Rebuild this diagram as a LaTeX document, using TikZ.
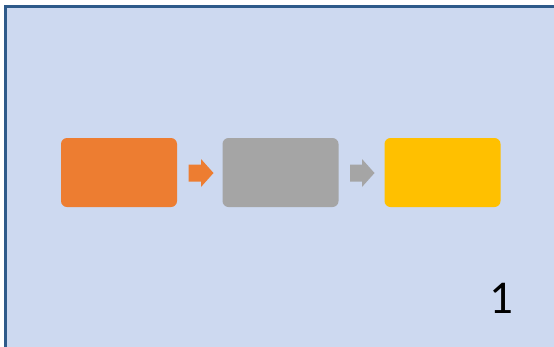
\documentclass[tikz,border=0pt]{standalone}
\usepackage{fontspec}
\setmainfont{Carlito}
\definecolor{bgblue}{HTML}{CDD9F0}
\definecolor{edgeblue}{HTML}{2E5A8A}
\definecolor{orng}{HTML}{ED7D31}
\definecolor{gry}{HTML}{A5A5A5}
\definecolor{ylw}{HTML}{FFC000}
\tikzset{
  procbox/.style={rounded corners=6pt, minimum width=116pt, minimum height=69pt, inner sep=0pt, draw=none},
}
\begin{document}
\begin{tikzpicture}[x=1pt,y=-1pt]
\useasboundingbox (0,0) rectangle (554,346);
\fill[white] (0,0) rectangle (554,346);
\fill[bgblue] (5,6) rectangle (556,348);
\draw[edgeblue, line width=3pt] (5,348) -- (5,6) -- (556,6);
\node[procbox, fill=orng] (a) at (119,172.5) {};
\node[procbox, fill=gry] (b) at (280.5,172.5) {};
\node[procbox, fill=ylw] (c) at (442.5,172.5) {};
\coordinate (a1) at (188.5,173);
\coordinate (b1) at (350,173);
\fill[orng] (a1) ++(0,-8.5) -- ++(12.5,0) -- ++(0,-5.5) -- ++(12.5,14) -- ++(-12.5,14) -- ++(0,-5.5) -- ++(-12.5,0) -- cycle;
\fill[gry] (b1) ++(0,-8.5) -- ++(12,0) -- ++(0,-5.5) -- ++(12.5,14) -- ++(-12.5,14) -- ++(0,-5.5) -- ++(-12,0) -- cycle;
\node[font=\fontsize{47}{52}\selectfont, inner sep=0pt, anchor=base] (n) at (501,313) {1};
\end{tikzpicture}
\end{document}
